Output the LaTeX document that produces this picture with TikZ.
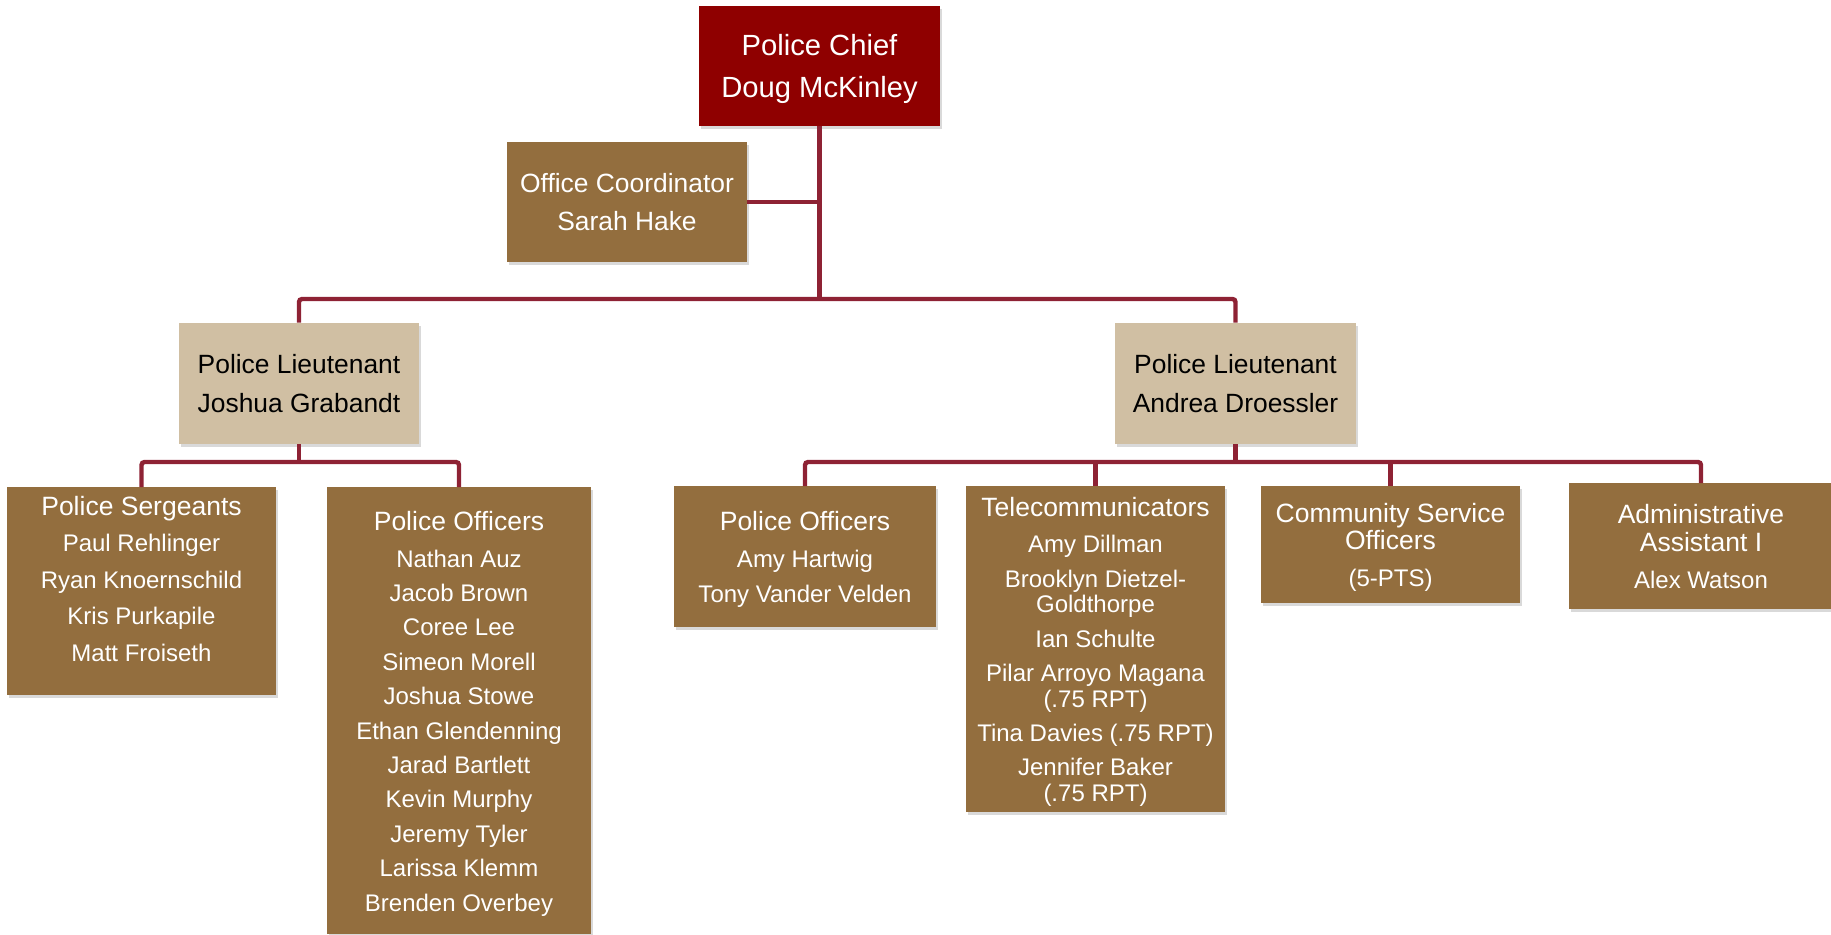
\documentclass[tikz,border=0pt]{standalone}
\usepackage{fontspec}
\setmainfont{Liberation Sans}
\usetikzlibrary{shadows}

\definecolor{chiefred}{RGB}{143,0,0}
\definecolor{staffbrown}{RGB}{147,110,62}
\definecolor{lttan}{RGB}{208,191,163}
\definecolor{linkred}{RGB}{142,34,52}

% heading size inside the unit boxes
\newcommand{\hd}{\fontsize{13.25}{13.25}\selectfont}

\tikzset{
  card/.style={rectangle, inner sep=0pt, align=center, text depth=0pt,
    drop shadow={shadow xshift=1.2pt, shadow yshift=-1.5pt, opacity=0.3}},
  chiefbox/.style={card, fill=chiefred, text=white, font=\fontsize{14.6}{21}\selectfont},
  ltbox/.style={card, fill=lttan, text=black, font=\fontsize{13.2}{19.3}\selectfont},
  staffbox/.style={card, fill=staffbrown, text=white, font=\fontsize{13.2}{19.3}\selectfont},
  unitbox/.style={card, fill=staffbrown, text=white, anchor=north, font=\fontsize{12}{12.8}\selectfont},
  link/.style={draw=linkred, line width=2.2pt, rounded corners=1.5pt},
}

\begin{document}
\begin{tikzpicture}[x=0.5pt, y=-0.5pt]
    \useasboundingbox (0,0) rectangle (1831,934);
    \clip (0,0) rectangle (1831,934);

    % top
    \node[chiefbox, minimum width=120.5pt, minimum height=60pt] (chief) at (819.5,66) {Police Chief\\Doug McKinley};
    \node[staffbox, minimum width=120pt, minimum height=60pt] (office) at (627,202) {Office Coordinator\\Sarah Hake};

    % lieutenants
    \node[ltbox, minimum width=120pt, minimum height=60.5pt] (ltA) at (299,383.5) {Police Lieutenant\\Joshua Grabandt};
    \node[ltbox, minimum width=120.5pt, minimum height=60.5pt] (ltB) at (1235.5,383.5) {Police Lieutenant\\Andrea Droessler};

    % units under lieutenant A
    \node[unitbox, minimum width=134.5pt, minimum height=104pt] (serg) at (141.5,487)
        {{\hd Police Sergeants}\\[5.5pt]Paul Rehlinger\\[5.4pt]Ryan Knoernschild\\[5.4pt]Kris Purkapile\\[5.4pt]Matt Froiseth\\\mbox{}};
    \node[unitbox, minimum width=132pt, minimum height=223.5pt] (offA) at (459,487)
        {{\hd Police Officers}\\[5.7pt]Nathan Auz\\[4.4pt]Jacob Brown\\[4.4pt]Coree Lee\\[4.4pt]Simeon Morell\\[4.4pt]Joshua Stowe\\[4.4pt]Ethan Glendenning\\[4.4pt]Jarad Bartlett\\[4.4pt]Kevin Murphy\\[4.4pt]Jeremy Tyler\\[4.4pt]Larissa Klemm\\[4.4pt]Brenden Overbey};

    % units under lieutenant B
    \node[unitbox, minimum width=131pt, minimum height=70.5pt] (offB) at (805,486)
        {{\hd Police Officers}\\[5.7pt]Amy Hartwig\\[4.7pt]Tony Vander Velden};
    \node[unitbox, minimum width=129.5pt, minimum height=163pt] (tele) at (1095.5,486)
        {{\hd Telecommunicators}\\[5.2pt]Amy Dillman\\[4.4pt]Brooklyn Dietzel-\\Goldthorpe\\[4.4pt]Ian Schulte\\[4.4pt]Pilar Arroyo Magana\\(.75 RPT)\\[4.4pt]Tina Davies (.75 RPT)\\[4.4pt]Jennifer Baker\\(.75 RPT)};
    \node[unitbox, minimum width=129.5pt, minimum height=58.5pt] (cso) at (1390.5,486)
        {{\hd Community Service}\\[0.5pt]{\hd Officers}\\[6pt](5-PTS)};
    \node[unitbox, minimum width=132pt, minimum height=63pt] (admin) at (1701,483)
        {{\hd Administrative}\\[1pt]{\hd Assistant I}\\[5.5pt]Alex Watson};

    % connectors
    \coordinate (topbar) at (819.5,299);
    \coordinate (barA) at (299,462);
    \coordinate (barB) at (1235.5,462);

    \draw[link] (chief.south) -- (topbar);
    \draw[link] (office.east) -- (office.east -| chief.south);
    \draw[link] (ltA.north) |- (topbar) -| (ltB.north);

    \draw[link] (ltA.south) -- (barA);
    \draw[link] (serg.north) |- (barA) -| (offA.north);

    \draw[link] (ltB.south) -- (barB);
    \draw[link] (offB.north) |- (barB) -| (admin.north);
    \draw[link] (tele.north) -- (tele.north |- barB);
    \draw[link] (cso.north) -- (cso.north |- barB);
\end{tikzpicture}
\end{document}
